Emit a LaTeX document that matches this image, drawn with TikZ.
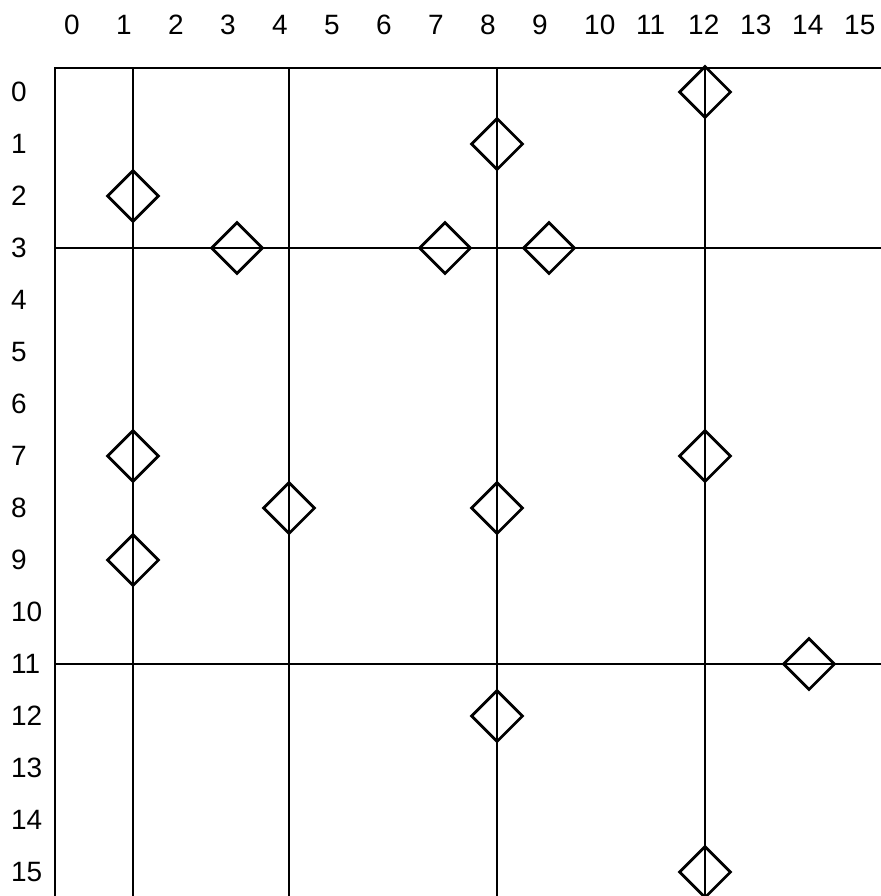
\documentclass[tikz,border=0pt]{standalone}
\usepackage{fontspec}
\setmainfont{Liberation Sans}
\usetikzlibrary{shapes.geometric}

\begin{document}
\begin{tikzpicture}[
    x=1cm, y=-1cm,
    font=\fontsize{15.3}{18}\selectfont,
    ln/.style={line width=1.5pt},
    num/.style={inner sep=0pt, anchor=base west},
    dmd/.style={diamond, draw, line width=1.5pt, inner sep=0pt, minimum width=1cm, minimum height=1cm},
  ]
    \clip (-1.5577,-1.7692) rectangle (15.3846,15.4615);
    % row and column numbers
    \foreach \i in {0,...,15} {
      \node[num] (top\i) at (\i-0.33,-1.10) {\i};
      \node[num] (side\i) at (-1.35,\i+0.19) {\i};
    }
    % frame and dividing lines
    \draw[ln] (-0.5,16) -- (-0.5,-0.46) -- (16,-0.46);
    \foreach \c in {1,4,8,12}
      \draw[ln] (\c,-0.46) -- (\c,16);
    \foreach \r in {3,11}
      \draw[ln] (-0.5,\r) -- (16,\r);
    % diamonds
    \foreach \c/\r [count=\k] in {12/0, 8/1, 1/2, 3/3, 7/3, 9/3, 1/7, 12/7, 4/8, 8/8, 1/9, 14/11, 8/12, 12/15}
      \node[dmd] (d\k) at (\c,\r) {};
\end{tikzpicture}
\end{document}
